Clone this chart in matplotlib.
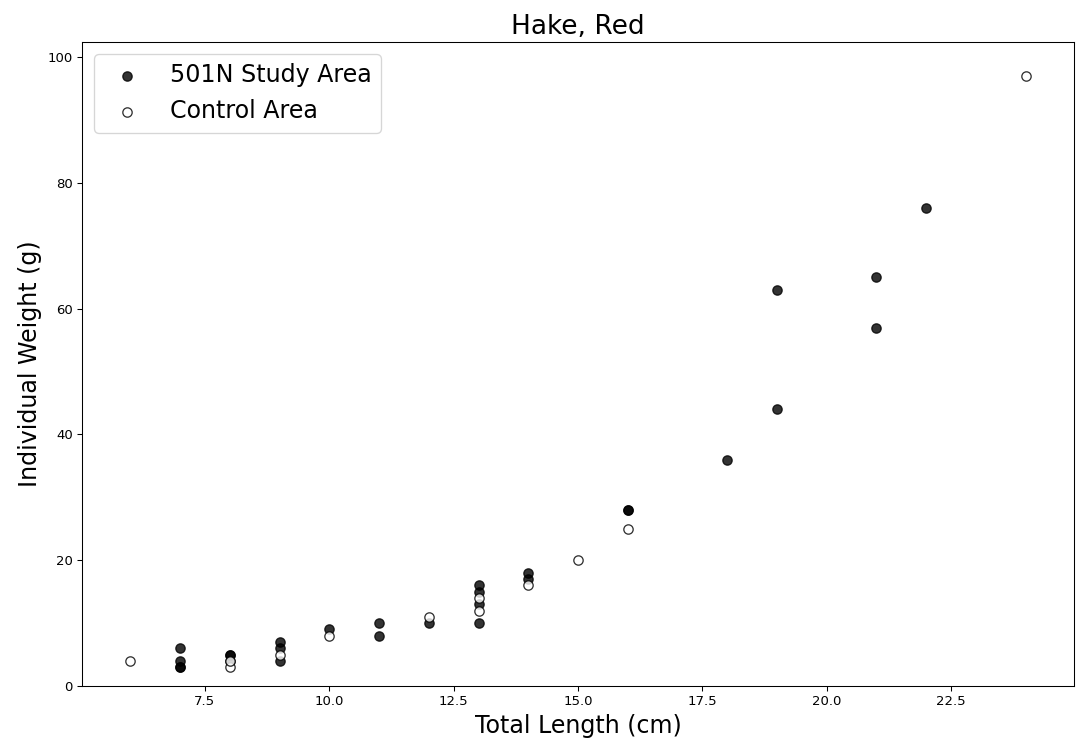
import matplotlib
matplotlib.use("Agg")
import matplotlib.pyplot as plt

# 501N Study Area (length cm, weight g)
study_len = [7, 7, 7, 7, 8, 8, 8, 9, 9, 9, 10, 11, 11, 12, 13, 13, 13, 13, 14, 14,
             16, 16, 18, 19, 19, 21, 21, 22]
study_wt = [3, 3, 4, 6, 4, 5, 5, 4, 6, 7, 9, 8, 10, 10, 10, 13, 15, 16, 17, 18,
            28, 28, 36, 44, 63, 57, 65, 76]

# Control Area
ctrl_len = [6, 8, 8, 9, 10, 12, 13, 13, 14, 15, 16, 24]
ctrl_wt = [4, 3, 4, 5, 8, 11, 12, 14, 16, 20, 25, 97]

title = "Hake, Red"
xlabel = "Total Length (cm)"
ylabel = "Individual Weight (g)"

dpi = 95
fig = plt.figure(figsize=(1077 / dpi, 745 / dpi), dpi=dpi)
ax = fig.add_axes([82 / 1077, 1 - 686 / 745, 992 / 1077, 644 / 745])

ax.scatter(study_len, study_wt, s=50, c="black", alpha=0.8, label="501N Study Area")
ax.scatter(ctrl_len, ctrl_wt, s=50, facecolors="white", edgecolors="black",
           alpha=0.8, label="Control Area")

ax.set_xlim(5.03, 24.97)
ax.set_ylim(0, 102.4)
ax.set_title(title, fontsize=20)
ax.set_xlabel(xlabel, fontsize=18)
ax.set_ylabel(ylabel, fontsize=18)
ax.tick_params(labelsize=10)
ax.legend(loc="upper left", fontsize=18)

fig.savefig("out.png", dpi=dpi)
